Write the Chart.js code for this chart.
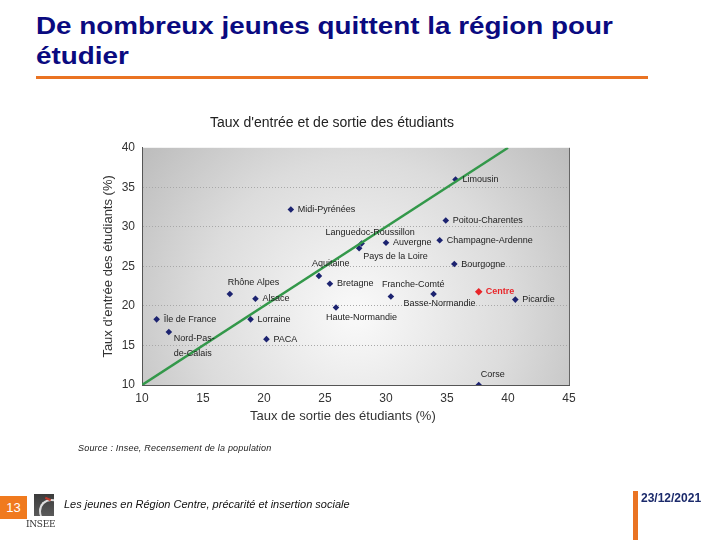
<!DOCTYPE html>
<html lang="fr">
<head>
<meta charset="UTF-8">
<title>De nombreux jeunes quittent la région pour étudier</title>
<script src="https://cdn.jsdelivr.net/npm/chart.js"></script>
<style>
  body { margin: 0; width: 720px; height: 540px; position: relative; background: #fff; font-family: "Liberation Sans", Arial, sans-serif; overflow: hidden; }
  #titre { position: absolute; left: 36px; top: 11px; font-size: 23px; font-weight: bold; color: #0a0a80; line-height: 30px; transform: scaleX(1.21); transform-origin: left top; white-space: nowrap; }
  #filet { position: absolute; left: 36px; top: 76px; width: 612px; height: 3px; background: #ea7322; }
  #chart { position: absolute; left: 0; top: 0; }
  #source { position: absolute; left: 78px; top: 443px; font-size: 9px; font-style: italic; color: #222; letter-spacing: 0.2px; }
  #num { position: absolute; left: 0; top: 496px; width: 27px; height: 23px; background: #f07a1e; color: #fff; font-size: 13px; line-height: 23px; text-align: center; }
  #logo { position: absolute; left: 34px; top: 494px; width: 20px; height: 22px; background: linear-gradient(#3b3b3b, #5a5a5a); overflow: hidden; }
  #logo span { position: absolute; left: 5px; top: 5px; width: 22px; height: 22px; border-top: 2px solid #ddd; border-left: 2px solid #ddd; border-radius: 50%; }
  #logo i { position: absolute; left: 11px; top: 4px; width: 6px; height: 2px; background: #c0392b; transform: rotate(25deg); }
  #insee { position: absolute; left: 26px; top: 519px; font-family: "DejaVu Serif", serif; font-size: 9px; color: #333; letter-spacing: -0.3px; }
  #pied { position: absolute; left: 64px; top: 498px; font-size: 11px; font-style: italic; color: #111; }
  #barre { position: absolute; left: 633px; top: 491px; width: 5px; height: 49px; background: #ea7322; }
  #date { position: absolute; left: 641px; top: 491px; font-size: 12px; font-weight: bold; color: #1b2a6b; }
</style>
</head>
<body>
<div id="titre">De nombreux jeunes quittent la région pour<br>étudier</div>
<div id="filet"></div>
<canvas id="chart" width="720" height="540"></canvas>
<div id="source">Source : Insee, Recensement de la population</div>
<div id="num">13</div>
<div id="logo"><span></span><i></i></div>
<div id="insee">INSEE</div>
<div id="pied">Les jeunes en Région Centre, précarité et insertion sociale</div>
<div id="barre"></div>
<div id="date">23/12/2021</div>

<script>
const regions = ['Limousin', 'Midi-Pyrénées', 'Poitou-Charentes', 'Languedoc-Roussillon', 'Pays de la Loire',
  'Auvergne', 'Champagne-Ardenne', 'Bourgogne', 'Aquitaine', 'Bretagne', 'Franche-Comté', 'Basse-Normandie',
  'Centre', 'Picardie', 'Haute-Normandie', 'Rhône Alpes', 'Alsace', 'Lorraine', 'PACA', 'Île de France',
  'Nord-Pas-de-Calais', 'Corse'];
const tauxSortie = [35.7, 22.2, 34.9, 28.0, 27.8, 30.0, 34.4, 35.6, 24.5, 25.4, 30.4, 33.9,
  37.6, 40.6, 25.9, 17.2, 19.3, 18.9, 20.2, 11.2, 12.2, 37.6];
const tauxEntree = [36.0, 32.2, 30.8, 27.9, 27.3, 28.0, 28.3, 25.3, 23.8, 22.8, 21.2, 21.5,
  21.8, 20.8, 19.8, 21.5, 20.9, 18.3, 15.8, 18.3, 16.7, 10.0];
const diagonale = [10, 40];
const xTicks = [10, 15, 20, 25, 30, 35, 40, 45];
const yTicks = [10, 15, 20, 25, 30, 35, 40];

// position des étiquettes : [dx, dy] en px depuis le point, texte aligné à gauche
const placement = {
  'Languedoc-Roussillon': [-36, -11], 'Pays de la Loire': [4, 8], 'Aquitaine': [-7, -12],
  'Franche-Comté': [-9, -12], 'Basse-Normandie': [-30, 9], 'Haute-Normandie': [-10, 10],
  'Rhône Alpes': [-2, -12], 'Corse': [2, -10]
};

const points = regions.map((r, i) => ({ x: tauxSortie[i], y: tauxEntree[i] }));
const couleurs = regions.map(r => r === 'Centre' ? '#e8262a' : '#1c2370');
const police = '"Liberation Sans", Arial, sans-serif';

const fond = {
  id: 'fond',
  beforeDraw(chart) {
    const { ctx, chartArea: a } = chart;
    const cx = a.left + 0.5 * a.width, cy = a.top + 0.7 * a.height;
    const g = ctx.createRadialGradient(cx, cy, 10, cx, cy, 300);
    g.addColorStop(0, '#f8f8f8');
    g.addColorStop(0.5, '#dcdcdc');
    g.addColorStop(1, '#b4b4b4');
    ctx.save();
    ctx.fillStyle = g;
    ctx.fillRect(a.left, a.top, a.width, a.height);
    ctx.restore();
  },
  afterDraw(chart) {
    const { ctx, chartArea: a } = chart;
    ctx.save();
    ctx.strokeStyle = '#666';
    ctx.lineWidth = 1;
    ctx.beginPath();
    ctx.moveTo(a.right + 0.5, a.top);
    ctx.lineTo(a.right + 0.5, a.bottom);
    ctx.stroke();
    ctx.restore();
  }
};

const etiquettes = {
  id: 'etiquettes',
  afterDatasetsDraw(chart) {
    const { ctx } = chart;
    const meta = chart.getDatasetMeta(1);
    ctx.save();
    ctx.textBaseline = 'middle';
    ctx.textAlign = 'left';
    meta.data.forEach((el, i) => {
      const nom = regions[i];
      const [dx, dy] = placement[nom] || [7, 0];
      if (nom === 'Centre') {
        ctx.fillStyle = '#e8262a';
        ctx.font = 'bold 9px ' + police;
      } else {
        ctx.fillStyle = '#222';
        ctx.font = '9px ' + police;
      }
      if (nom === 'Nord-Pas-de-Calais') {
        ctx.fillText('Nord-Pas-', el.x + 5, el.y + 6);
        ctx.fillText('de-Calais', el.x + 5, el.y + 21);
      } else {
        ctx.fillText(nom, el.x + dx, el.y + dy);
      }
    });
    ctx.restore();
  }
};

new Chart(document.getElementById('chart'), {
  type: 'scatter',
  data: {
    datasets: [{
      type: 'line',
      data: diagonale.map(v => ({ x: v, y: v })),
      borderColor: '#33984a',
      borderWidth: 2.5,
      pointRadius: 0,
      fill: false
    }, {
      data: points,
      backgroundColor: couleurs,
      borderColor: couleurs,
      pointStyle: 'rectRot',
      pointRadius: regions.map(r => r === 'Centre' ? 3.8 : 3.3),
      borderWidth: 0
    }]
  },
  options: {
    responsive: false,
    animation: false,
    layout: { padding: { left: 95, right: 151, top: 110, bottom: 115 } },
    plugins: {
      legend: { display: false },
      tooltip: { enabled: false },
      title: {
        display: true,
        text: "Taux d'entrée et de sortie des étudiants",
        color: '#222',
        font: { family: police, size: 14, weight: 'normal' },
        padding: { top: 5, bottom: 16 }
      }
    },
    scales: {
      x: {
        type: 'linear',
        min: xTicks[0], max: xTicks[xTicks.length - 1],
        afterBuildTicks(s) { s.ticks = xTicks.map(v => ({ value: v })); },
        afterFit(s) { s.height = 40; },
        ticks: { color: '#333', padding: 6, font: { family: police, size: 12 } },
        grid: { drawOnChartArea: false, drawTicks: false },
        border: { color: '#555', width: 1 },
        title: {
          display: true, text: 'Taux de sortie des étudiants (%)\u00a0\u00a0\u00a0\u00a0\u00a0\u00a0\u00a0', color: '#333',
          font: { family: police, size: 13 }, padding: { top: 0, bottom: 1 }
        }
      },
      y: {
        type: 'linear',
        min: yTicks[0], max: yTicks[yTicks.length - 1],
        afterBuildTicks(s) { s.ticks = yTicks.map(v => ({ value: v })); },
        afterFit(s) { s.width = 47; },
        ticks: { color: '#333', padding: 7, font: { family: police, size: 12 } },
        grid: {
          drawTicks: false,
          color: c => (c.tick.value === 10 || c.tick.value === 40) ? 'rgba(0,0,0,0)' : '#a8a8a8',
          lineWidth: 1
        },
        border: { color: '#555', width: 1, dash: [1, 2] },
        title: {
          display: true, text: "Taux d'entrée des étudiants (%)", color: '#333',
          font: { family: police, size: 13 }, padding: { top: 6, bottom: 0 }
        }
      }
    }
  },
  plugins: [fond, etiquettes]
});
</script>
</body>
</html>
